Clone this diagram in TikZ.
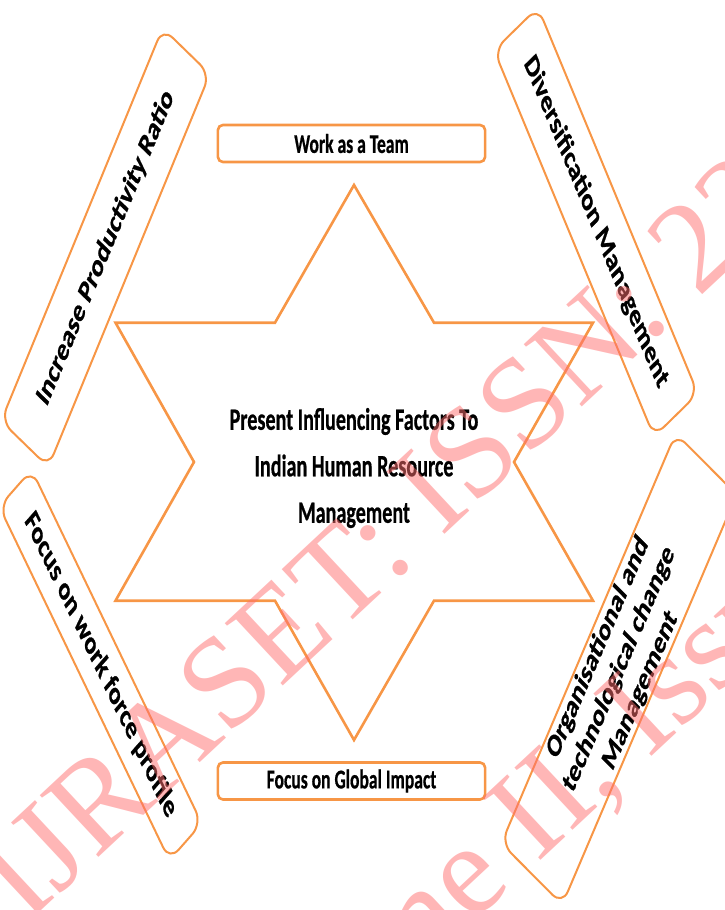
\documentclass[tikz,border=0pt]{standalone}
\usepackage{fontspec}
\setmainfont{Carlito}[BoldFeatures={FakeBold=0.8}]
\newfontfamily\markfont{Liberation Serif}
\definecolor{starorange}{RGB}{247,150,70}
\definecolor{markpink}{RGB}{255,110,110}
\tikzset{
  factorbox/.style={draw=starorange, line width=2pt, rounded corners=14pt, inner sep=0pt,
    align=center, font=\bfseries\fontsize{33}{39}\selectfont},
  bandbox/.style={draw=starorange, line width=2.6pt, rounded corners=5pt, inner sep=0pt,
    minimum width=411pt, minimum height=37pt, font=\bfseries\fontsize{27}{30}\selectfont},
  watermark/.style={text=markpink, opacity=0.5, font=\markfont\fontsize{130}{130}\selectfont}
}
\begin{document}
\begin{tikzpicture}[x=1pt, y=-1pt]
\useasboundingbox (0,0) rectangle (724,910);
\begin{scope}[x=1.53846pt, xscale=0.65, transform shape]
  % six-point star
  \draw[starorange, line width=2.6pt] (354,185) -- (434,322.7) -- (593,322.7) -- (514,462)
    -- (593,600.7) -- (434,600.7) -- (354,740) -- (275,600.7) -- (115.5,600.7) -- (194,462)
    -- (115.5,322.7) -- (275,322.7) -- cycle;
  \node[font=\bfseries\fontsize{31}{46.5}\selectfont, align=center] (core) at (354,468)
    {Present Influencing Factors To\\Indian Human Resource\\Management};
  % top and bottom bands
  \node[bandbox] (team) at (351.5,143.5) {Work as a Team};
  \node[bandbox] (global) at (351.5,781) {Focus on Global Impact};
  % tilted boxes
  \node[factorbox, minimum width=465pt, minimum height=86pt, rotate=57.7] (ratio) at (105.5,247.5)
    {Increase Productivity Ratio};
  \node[factorbox, minimum width=458pt, minimum height=80pt, rotate=-57.5] (diverse) at (596,222)
    {Diversification Management};
  \node[factorbox, minimum width=440pt, minimum height=62pt, rotate=-53.5] (profile) at (100.5,665)
    {Focus on work force profile};
  \node[factorbox, minimum width=490pt, minimum height=112pt, rotate=56.8] (change) at (619,669)
    {Organisational and\\technological change\\Management};
\end{scope}
% watermark
\node[watermark, rotate=43, anchor=base west] (mark1) at (24,927) {IJRASET: ISSN: 2321-9653};
\node[watermark, rotate=43, anchor=base west] (mark2) at (217,1162) {Volume II, Issue XI};
\end{tikzpicture}
\end{document}
